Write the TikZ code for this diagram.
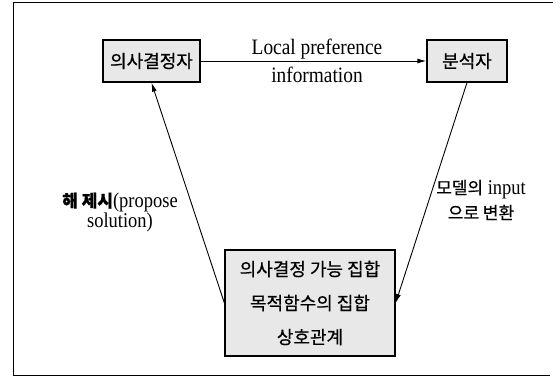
\documentclass[tikz,border=0pt]{standalone}
\usepackage{fontspec}
\setmainfont[FakeStretch=0.88]{Liberation Serif}
\newfontfamily\kr[FakeBold=0.6]{Noto Sans CJK KR}
\usetikzlibrary{arrows.meta}
\begin{document}
\begin{tikzpicture}[x=1pt,y=-1pt,
  box/.style={draw=black, line width=1.3pt, fill=gray!18, inner sep=0pt, font=\kr\fontsize{18}{20}\selectfont},
  arr/.style={line width=0.9pt, -{Latex[length=9pt,width=5pt]}},
  lbl/.style={inner sep=0pt, align=center, font=\fontsize{22}{28}\selectfont}]
\useasboundingbox (0,0) rectangle (560,377);
\draw[line width=1pt] (553,3) -- (13,3) -- (13,375) -- (550,375);
\node[box, minimum width=97pt, minimum height=42pt] (dm) at (151.5,61) {의사결정자};
\node[box, minimum width=80pt, minimum height=42pt] (an) at (467,61) {분석자};
\node[box, minimum width=170pt, minimum height=106pt, align=center,
  font=\kr\fontsize{18}{34}\selectfont] (set) at (310,303) {의사결정 가능 집합\\목적함수의 집합\\상호관계};
\draw[arr] (dm) -- (an);
\draw[arr] (set.west) -- (dm.south);
\draw[arr] (an.south) -- (set.east);
\node[lbl] (lpi) at (317,61) {Local preference\\information};
\node[lbl, font=\fontsize{21}{20}\selectfont] (ps) at (120,212) {{\kr\fontsize{17}{20}\selectfont\bfseries 해 제시}(propose\\solution)};
\node[lbl, font=\fontsize{21}{25}\selectfont] (mi) at (481,200) {{\kr\fontsize{17}{20}\selectfont 모델의} input\\{\kr\fontsize{17}{20}\selectfont 으로 변환}};
\end{tikzpicture}
\end{document}
